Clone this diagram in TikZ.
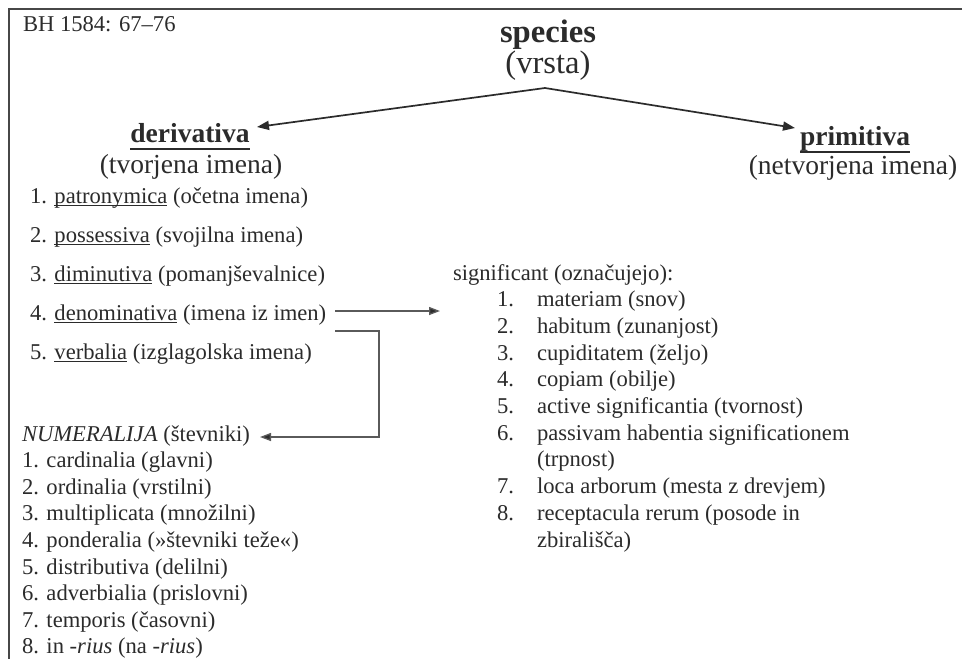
\documentclass[tikz,border=0pt]{standalone}
\usepackage{fontspec}
\setmainfont{Liberation Serif}
\usetikzlibrary{arrows.meta}

\definecolor{ink}{HTML}{2B2B2B}
\definecolor{rulegray}{HTML}{474747}
\definecolor{linkgray}{HTML}{5A5A5A}

% underline with adjustable depth and thickness
\newcommand{\undl}[3][3pt]{\setbox0\hbox{#3}\rlap{\rule[-#1]{\wd0}{#2}}\box0\relax}

\tikzset{
  txt/.style={inner sep=0pt, outer sep=0pt, text=ink,
              font=\fontsize{22.6}{26}\selectfont},
  item/.style={txt, anchor=base west},
  head/.style={inner sep=0pt, outer sep=0pt, text=ink, anchor=base,
               font=\fontsize{27.5}{32}\selectfont},
  title/.style={inner sep=0pt, outer sep=0pt, text=ink, anchor=base,
                font=\fontsize{32.6}{38}\selectfont},
  frameline/.style={draw=rulegray, line width=1.8pt},
  mainarrow/.style={draw=ink, line width=1.7pt,
                    -{Triangle[length=12pt,width=9pt]}},
  linkarrow/.style={draw=linkgray, line width=1.3pt,
                    -{Triangle[length=11pt,width=8pt,fill=ink]}},
}

\begin{document}
\begin{tikzpicture}[x=1pt, y=-1pt]
\useasboundingbox (0,0) rectangle (968,659);
\fill[white] (0,0) rectangle (968,659);

% page frame (top and left edges only)
\coordinate (fTL) at (9,9);
\coordinate (fTR) at (962,9);
\coordinate (fBL) at (9,659);
\draw[frameline] (fTR) -- (fTL) -- (fBL);

% source reference
\node[item] (src) at (23,31) {BH 1584: 67–76};

% root
\node[title] (species) at (548,42) {\textbf{species}};
\node[title] (vrsta) at (548,73) {(vrsta)};
\coordinate (apex) at (545,88);

% two branches
\node[head] (deriv) at (190,142) {\undl[8pt]{1.8pt}{\textbf{derivativa}}};
\node[head] (derivsub) at (191,173) {(tvorjena imena)};
\node[head] (prim) at (855,145) {\undl[8pt]{1.8pt}{\textbf{primitiva}}};
\node[head] (primsub) at (853,174) {(netvorjena imena)};

\coordinate (derivtip) at (257,127);
\coordinate (primtip) at (795,128);
\draw[mainarrow] (apex) -- (derivtip);
\draw[mainarrow] (apex) -- (primtip);

% derived nouns
\node[item] (d1) at (30,203) {1. \undl{0.8pt}{patronymica} (očetna imena)};
\node[item] (d2) at (30,242) {2. \undl{0.8pt}{possessiva} (svojilna imena)};
\node[item] (d3) at (30,281) {3. \undl{0.8pt}{diminutiva} (pomanjševalnice)};
\node[item] (d4) at (30,320) {4. \undl{0.8pt}{denominativa} (imena iz imen)};
\node[item] (d5) at (30,359) {5. \undl{0.8pt}{verbalia} (izglagolska imena)};

% numerals
\node[item] (num) at (22,441) {\textit{NUMERALIJA} (števniki)};
\node[item] (n1) at (22,467.6) {1. cardinalia (glavni)};
\node[item] (n2) at (22,494.2) {2. ordinalia (vrstilni)};
\node[item] (n3) at (22,520.8) {3. multiplicata (množilni)};
\node[item] (n4) at (22,547.4) {4. ponderalia (»števniki teže«)};
\node[item] (n5) at (22,574) {5. distributiva (delilni)};
\node[item] (n6) at (22,600.6) {6. adverbialia (prislovni)};
\node[item] (n7) at (22,627.2) {7. temporis (časovni)};
\node[item] (n8) at (22,653.8) {8. in \textit{-rius} (na \textit{-rius})};

% meanings of denominatives
\node[item] (sig) at (453,280) {significant (označujejo):};
\node[item] (s1n) at (497,306.7) {1.};
\node[item] (s1) at (537,306.7) {materiam (snov)};
\node[item] (s2n) at (497,333.4) {2.};
\node[item] (s2) at (537,333.4) {habitum (zunanjost)};
\node[item] (s3n) at (497,360.1) {3.};
\node[item] (s3) at (537,360.1) {cupiditatem (željo)};
\node[item] (s4n) at (497,386.8) {4.};
\node[item] (s4) at (537,386.8) {copiam (obilje)};
\node[item] (s5n) at (497,413.5) {5.};
\node[item] (s5) at (537,413.5) {active significantia (tvornost)};
\node[item] (s6n) at (497,440.2) {6.};
\node[item] (s6) at (537,440.2) {passivam habentia significationem};
\node[item] (s6b) at (537,466.9) {(trpnost)};
\node[item] (s7n) at (497,493.6) {7.};
\node[item] (s7) at (537,493.6) {loca arborum (mesta z drevjem)};
\node[item] (s8n) at (497,520.3) {8.};
\node[item] (s8) at (537,520.3) {receptacula rerum (posode in};
\node[item] (s8b) at (537,547) {zbirališča)};

% links from the denominatives
\coordinate (d4out) at (335,311);
\coordinate (sigtip) at (440,311);
\draw[linkarrow] (d4out) -- (sigtip);

\coordinate (d4low) at (335,331);
\coordinate (numtip) at (260,437);
\draw[linkarrow] (d4low) -- (379,331) |- (numtip);
\end{tikzpicture}
\end{document}
